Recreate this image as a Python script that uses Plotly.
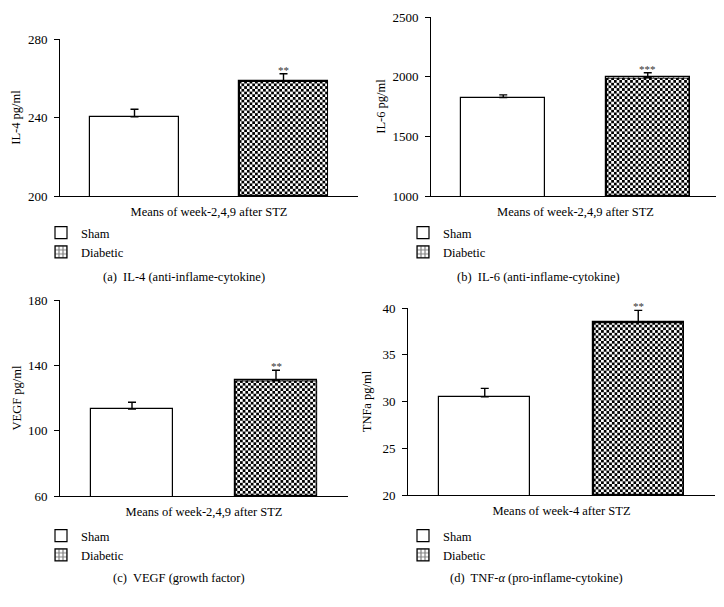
import base64
import plotly.graph_objects as go

W, H = 724, 607          # window size
OFF = 8                  # page body margin
FW, FH = W - OFF, H - OFF  # figure size

groups = ["Sham", "Diabetic"]

il4_means = [240.4, 258.7]
il4_err = [3.8, 3.6]
il6_means = [1825, 1994]
il6_err = [22, 39]
vegf_means = [113.3, 130.9]
vegf_err = [4.1, 6.1]
tnf_means = [30.5, 38.5]
tnf_err = [0.9, 1.25]

stars = ["**", "***", "**", "**"]
y_titles = ["IL-4 pg/ml", "IL-6 pg/ml", "VEGF pg/ml", "TNFa pg/ml"]
x_titles = ["Means of week-2,4,9 after STZ", "Means of week-2,4,9 after STZ",
            "Means of week-2,4,9 after STZ", "Means of week-4 after STZ"]
captions = ["(a)  IL-4 (anti-inflame-cytokine)", "(b)  IL-6 (anti-inflame-cytokine)",
            "(c)  VEGF (growth factor)", "(d)  TNF-<i>α</i> (pro-inflame-cytokine)"]
y_ranges = [[200, 280], [1000, 2500], [60, 180], [20, 40]]
y_dticks = [40, 500, 40, 5]

means = [il4_means, il6_means, vegf_means, tnf_means]
errs = [il4_err, il6_err, vegf_err, tnf_err]

# layout in window pixels: (x0, x1, ytop, ybottom)
panels_px = [(60, 358, 39, 196), (431, 720, 17, 196),
             (60, 348, 300, 496), (408, 715, 308, 495)]
bar_widths = [0.60, 0.58, 0.575, 0.59]
title_standoff = [4, 4, 3, 8]
caption_pos = [(184, 277), (538, 277), (179, 578), (536, 578)]
legend_pos = [(41, 218), (403, 218), (41, 521), (403, 521)]

FONT = "Liberation Serif"


def px2x(px):
    return (px - OFF) / FW


def px2y(py):
    return 1 - (py - OFF) / FH


def checker_uri(wpx, hpx, cell=2.7):
    p = 2 * cell
    svg = (
        f'<svg xmlns="http://www.w3.org/2000/svg" width="{wpx:.2f}" height="{hpx:.2f}" '
        f'viewBox="0 0 {wpx:.2f} {hpx:.2f}" preserveAspectRatio="none">'
        f'<defs><pattern id="c" width="{p}" height="{p}" patternUnits="userSpaceOnUse">'
        f'<rect width="{p}" height="{p}" fill="white"/>'
        f'<rect width="{cell}" height="{cell}" fill="black"/>'
        f'<rect x="{cell}" y="{cell}" width="{cell}" height="{cell}" fill="black"/>'
        f'</pattern></defs>'
        f'<rect x="0.6" y="0.6" width="{wpx-1.2:.2f}" height="{hpx-1.2:.2f}" fill="url(#c)" '
        f'stroke="black" stroke-width="1.2"/></svg>'
    )
    return "data:image/svg+xml;base64," + base64.b64encode(svg.encode()).decode()


fig = go.Figure()
images = []
annotations = []

for k in range(4):
    x0, x1, yt, yb = panels_px[k]
    ax = "" if k == 0 else str(k + 1)
    xa, ya = "x" + ax, "y" + ax
    leg = "legend" if k == 0 else f"legend{k+1}"
    bw = bar_widths[k]
    m, e = means[k], errs[k]
    lo, hi = y_ranges[k]

    fig.add_trace(go.Bar(
        x=[groups[0]], y=[m[0]], width=bw, name="Sham",
        marker=dict(color="white", line=dict(color="black", width=1.2)),
        error_y=dict(type="data", array=[e[0]], arrayminus=[0], color="black",
                     thickness=1.4, width=4),
        xaxis=xa, yaxis=ya, legend=leg, showlegend=True,
    ))
    fig.add_trace(go.Bar(
        x=[groups[1]], y=[m[1]], width=bw, name="Diabetic",
        marker=dict(color="white", line=dict(color="black", width=1.2),
                    pattern=dict(shape="+", fgcolor="black", bgcolor="white",
                                 size=5, solidity=0.5)),
        error_y=dict(type="data", array=[e[1]], arrayminus=[0], color="black",
                     thickness=1.4, width=4),
        xaxis=xa, yaxis=ya, legend=leg, showlegend=True,
    ))

    # checkerboard overlay for the diabetic bar
    wpx = bw * (x1 - x0) / 2
    hpx = (m[1] - lo) / (hi - lo) * (yb - yt)
    images.append(dict(
        source=checker_uri(wpx, hpx), xref=xa, yref=ya,
        x=1 - bw / 2, y=m[1], sizex=bw, sizey=m[1] - lo,
        xanchor="left", yanchor="top", sizing="stretch", layer="above",
    ))

    annotations.append(dict(
        x=1, y=m[1] + e[1], xref=xa, yref=ya, text=stars[k], showarrow=False,
        yanchor="bottom", yshift=-4, font=dict(family=FONT, size=11, color="#333"),
    ))
    cx, cy = caption_pos[k]
    annotations.append(dict(
        x=px2x(cx), y=px2y(cy), xref="paper", yref="paper", text=captions[k],
        showarrow=False, xanchor="center", yanchor="middle",
        font=dict(family=FONT, size=12.5, color="black"),
    ))

    fig.update_layout({
        "xaxis" + ax: dict(
            domain=[px2x(x0), px2x(x1)], anchor=ya, type="category",
            categoryorder="array", categoryarray=groups, range=[-0.5, 1.5],
            showticklabels=False, ticks="", showline=True, linecolor="black",
            linewidth=1, showgrid=False, zeroline=False, fixedrange=True,
            automargin=False,
            title=dict(text=x_titles[k], standoff=11,
                       font=dict(family=FONT, size=12.5, color="black")),
        ),
        "yaxis" + ax: dict(
            domain=[px2y(yb), px2y(yt)], anchor=xa, range=[lo, hi],
            tick0=lo, dtick=y_dticks[k], ticks="outside", ticklen=5,
            tickcolor="black", tickwidth=1, showline=True, linecolor="black",
            linewidth=1, showgrid=False, zeroline=False, ticklabelstandoff=4,
            automargin=False, ticklabeloverflow="allow",
            tickfont=dict(family=FONT, size=13, color="black"),
            title=dict(text=y_titles[k], standoff=title_standoff[k],
                       font=dict(family=FONT, size=12.5, color="black")),
        ),
    })
    lx, ly = legend_pos[k]
    fig.update_layout({
        leg: dict(x=px2x(lx), y=px2y(ly), xanchor="left", yanchor="top",
                  xref="paper", yref="paper", bgcolor="rgba(0,0,0,0)",
                  font=dict(family=FONT, size=12.5, color="black"),
                  tracegroupgap=0, itemwidth=30),
    })

fig.update_layout(
    width=FW, height=FH, margin=dict(l=0, r=0, t=0, b=0, autoexpand=False),
    paper_bgcolor="white", plot_bgcolor="white",
    barmode="overlay", bargap=0, showlegend=True,
    images=images, annotations=annotations,
    font=dict(family=FONT, size=12, color="black"),
)

fig.write_html("out.html")
